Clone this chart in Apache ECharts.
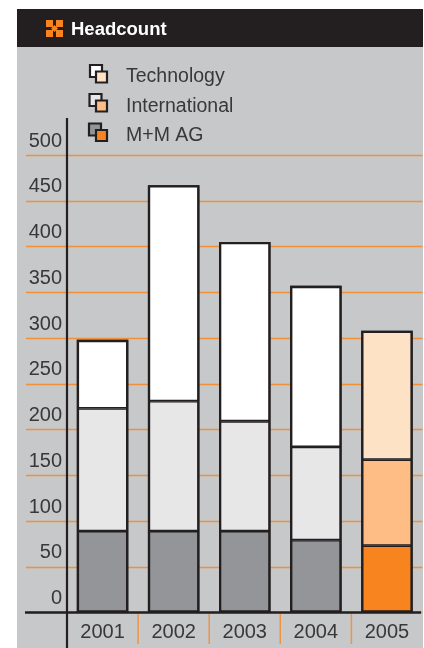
<!DOCTYPE html>
<html><head><meta charset="utf-8">
<style>html,body{margin:0;padding:0;background:#fff}#c{width:424px;height:648px}</style>
<script src="https://cdn.jsdelivr.net/npm/echarts@6/dist/echarts.min.js"></script>
</head><body><div id="c"></div>
<script>
const categories = ['2001','2002','2003','2004','2005'];
const mmAg = [89,89,89,79,73];
const international = [134,142,120,102,94];
const technology = [75,236,196,176,141];
const yTicks = [0,50,100,150,200,250,300,350,400,450,500];
const seriesNames = ['Technology','International','M+M AG'];
const greys = ['#ffffff','#e7e7e8','#939598'];
const oranges = ['#fee2c6','#fdbd85','#f7841e'];
const INK = '#231f20', TXT = '#38383a', FONT = '"Liberation Sans",Arial,sans-serif';
const GRID_LEFT = 67, GRID_RIGHT = 1.5, WIDTH = 424, BAR_W = 51.5;

const chart = echarts.init(document.getElementById('c'), null, {renderer:'canvas'});
const rect = (x,y,w,h,fill,z,extra) => ({type:'rect',shape:{x,y,width:w,height:h},style:Object.assign({fill},extra||{}),z,silent:true});
const line = (x1,y1,x2,y2,w,c) => ({type:'line',shape:{x1,y1,x2,y2},style:{stroke:c||INK,lineWidth:w},z:20,silent:true});
const backIcon = (x,y,i) => rect(x,y,12,12,greys[i],20,{stroke:INK,lineWidth:2.2});
const frontIcon = (x,y,i) => rect(x,y,11,11,oranges[i],21,{stroke:INK,lineWidth:2.2});
function colored(vals, idx){
  return vals.map((v,i)=> i===vals.length-1 ? {value:v,itemStyle:{color:oranges[idx]}} : v);
}
function bar(name, vals, idx){
  return {name,type:'bar',stack:'t',barWidth:BAR_W,barGap:'-100%',data:colored(vals,idx),
    itemStyle:{color:greys[idx],borderColor:INK,borderWidth:1.4},silent:true,animation:false,z:5};
}
const totals = mmAg.map((v,i)=>v+international[i]+technology[i]);
const outline = {name:'Total',type:'bar',barWidth:BAR_W,barGap:'-100%',data:totals,silent:true,animation:false,z:6,
  itemStyle:{color:'rgba(0,0,0,0)',borderColor:INK,borderWidth:2.3}};
const band = (WIDTH-GRID_LEFT-GRID_RIGHT)/categories.length;
const separators = categories.slice(1).map((c,i)=>line(GRID_LEFT+band*(i+1),614,GRID_LEFT+band*(i+1),644,1.5,'#ee9446'));
chart.setOption({
  animation:false,
  grid:{left:GRID_LEFT,right:GRID_RIGHT,top:155,bottom:35.5,containLabel:false},
  xAxis:{type:'category',data:categories,
    axisLine:{show:false},axisTick:{show:false},
    axisLabel:{color:TXT,fontFamily:FONT,fontSize:20,margin:10,verticalAlign:'top',interval:0}},
  yAxis:{type:'value',min:0,max:500,interval:50,
    axisLine:{show:false},
    axisTick:{show:true,length:41,lineStyle:{color:'#f0913a',width:1.4}},
    splitLine:{show:true,lineStyle:{color:'#f0913a',width:1.4}},
    axisLabel:{color:TXT,fontFamily:FONT,fontSize:20,margin:5,verticalAlign:'bottom',lineHeight:20,padding:[0,0,4,0],
      customValues:yTicks}},
  legend:{show:true,orient:'vertical',left:88,top:62,itemGap:9.5,itemWidth:12,itemHeight:12,selectedMode:false,
    data:seriesNames.map(n=>({name:n,icon:'rect',itemStyle:{color:'rgba(0,0,0,0)',borderWidth:0}})),
    textStyle:{color:TXT,fontFamily:FONT,fontSize:19.5,padding:[0,0,0,16]}},
  series:[bar(seriesNames[2],mmAg,2),bar(seriesNames[1],international,1),bar(seriesNames[0],technology,0),outline],
  graphic:[
    rect(17,47,406,601,'#c7c8ca',-10),
    rect(17,9,406,38,INK,-9),
    rect(46,20,7,7,'#f7841e',1),rect(56,20,7,7,'#f7841e',1),
    rect(46,30,7,7,'#f7841e',1),rect(56,30,7,7,'#f7841e',1),
    {type:'polygon',z:1,silent:true,shape:{points:[[54.5,25],[58,28.5],[54.5,32],[51,28.5]]},style:{fill:'#f7841e'}},
    {type:'text',x:71,y:20,z:2,silent:true,style:{text:'Headcount',fill:'#fff',font:'bold 18.5px '+FONT}},
    line(67,118,67,648,2.2),
    line(25,612.5,421,612.5,2.4),
    backIcon(90,65,0),frontIcon(96,71.5,0),
    backIcon(89.5,94,1),frontIcon(96,100.5,1),
    backIcon(89,123.5,2),frontIcon(96,130,2),
    ...separators
  ]
});
</script></body></html>
